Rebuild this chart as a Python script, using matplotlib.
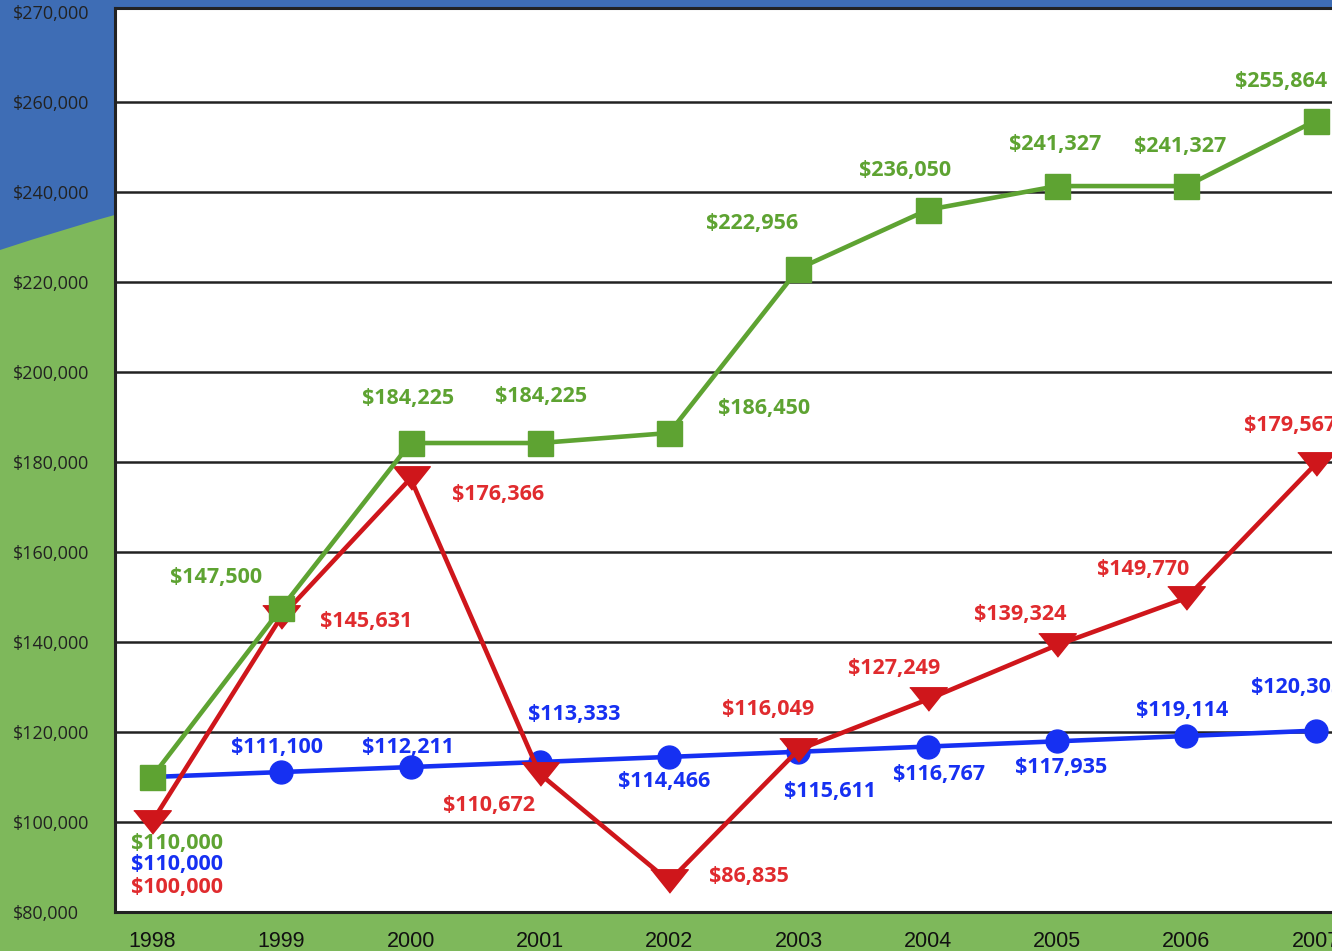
import numpy as np
import matplotlib
matplotlib.use("Agg")
import matplotlib.pyplot as plt
from matplotlib.path import Path
from matplotlib.patches import PathPatch

# data
years = [1998, 1999, 2000, 2001, 2002, 2003, 2004, 2005, 2006, 2007]
green_vals = [110000, 147500, 184225, 184225, 186450, 222956, 236050, 241327, 241327, 255864]
red_vals = [100000, 145631, 176366, 110672, 86835, 116049, 127249, 139324, 149770, 179567]
blue_vals = [110000, 111100, 112211, 113333, 114466, 115611, 116767, 117935, 119114, 120305]
ytick_vals = [80000, 100000, 120000, 140000, 160000, 180000, 200000, 220000, 240000, 260000, 280000]
ytick_labels = ["$80,000", "$100,000", "$120,000", "$140,000", "$160,000", "$180,000",
                "$200,000", "$220,000", "$240,000", "$260,000", "$270,000"]

# label offsets (pixels, from the point)
green_off = [(25, -66), (-65, 31), (-3, 45), (1, 47), (95, 25), (-46, 45),
             (-23, 39), (-2, 42), (-6, 40), (-35, 39)]
red_off = [(25, -65), (85, -5), (87, -16), (-51, -32), (80, 5), (-30, 40),
           (-34, 31), (-37, 31), (-43, 29), (-26, 38)]
blue_off = [(25, -87), (-4, 25), (-3, 20), (34, 48), (-5, -25), (32, -40),
            (11, -28), (4, -26), (-4, 25), (-19, 43)]

BG_BLUE = "#3e6db5"
BG_GREEN = "#7eb85b"
GREEN = "#5ea332"
RED = "#cf161b"
RED_TXT = "#e02b2e"
BLUE = "#1630f2"

W, H = 1332, 951
fig = plt.figure(figsize=(W / 100, H / 100), dpi=100, facecolor=BG_BLUE)

# green wave in the background
bg = fig.add_axes([0, 0, 1, 1], zorder=-1)
bg.set_xlim(0, 1)
bg.set_ylim(0, 1)
bg.axis("off")
verts = [(0, 1 - 250 / H), (500 / W, 1 - 85 / H), (1.0, 1 - 30 / H),
         (1.0, 0), (0, 0), (0, 1 - 250 / H)]
codes = [Path.MOVETO, Path.CURVE3, Path.CURVE3, Path.LINETO, Path.LINETO, Path.CLOSEPOLY]
bg.add_patch(PathPatch(Path(verts, codes), facecolor=BG_GREEN, edgecolor="none"))

left = 115 / W
right = (115 + 9.572 * 129.3) / W
bottom = (H - 912) / H
top = (H - 8) / H
ax = fig.add_axes([left, bottom, right - left, top - bottom])
ax.set_facecolor("white")
ax.set_xlim(1997.714, 2007.286)
ax.set_ylim(80000, 280900)

for v in ytick_vals[1:-1]:
    ax.axhline(v, color="#222222", lw=1.8, zorder=1)

tri = [(-0.8, 0.5), (0.8, 0.5), (0, -0.5)]
ax.plot(years, blue_vals, color=BLUE, lw=3.3, marker="o", ms=16.5, zorder=3)
ax.plot(years, red_vals, color=RED, lw=3.3, marker=tri, ms=27, zorder=4)
ax.plot(years, green_vals, color=GREEN, lw=3.3, marker="s", ms=18, zorder=5)

lab_font = dict(family=["Open Sans", "DejaVu Sans"], fontweight="bold", fontsize=15.5)
for vals, offs, col in [(green_vals, green_off, GREEN), (red_vals, red_off, RED_TXT),
                        (blue_vals, blue_off, BLUE)]:
    for x, v, (dx, dy) in zip(years, vals, offs):
        ax.annotate(f"${v:,}", (x, v), xytext=(dx, dy), textcoords="offset pixels",
                    ha="center", va="center", color=col, zorder=6, **lab_font)

ax.set_xticks(years)
ax.set_xticklabels([str(y) for y in years], fontfamily="Liberation Sans", fontsize=15.5,
                   color="#111111")
ax.set_yticks(ytick_vals)
ax.set_yticklabels(ytick_labels, fontfamily="Open Sans", fontsize=13, color="#222222",
                   ha="left")
ax.tick_params(axis="x", length=0, pad=14)
ax.tick_params(axis="y", length=0, pad=73.5)

for s in ["left", "bottom", "top"]:
    ax.spines[s].set_color("#222222")
    ax.spines[s].set_linewidth(2.2)
ax.spines["right"].set_visible(False)

fig.savefig("out.png", dpi=100, facecolor=fig.get_facecolor())
